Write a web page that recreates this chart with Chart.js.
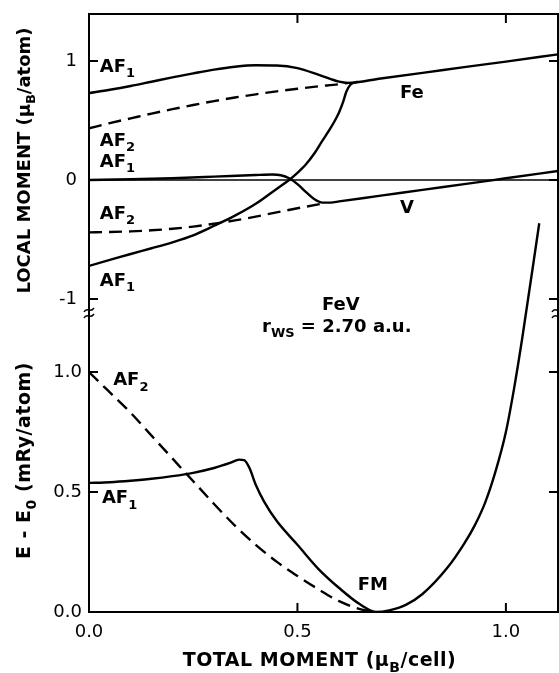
<!DOCTYPE html>
<html>
<head>
<meta charset="utf-8">
<title>FeV local moment and energy</title>
<script src="https://cdn.jsdelivr.net/npm/chart.js@4.4.0/dist/chart.umd.min.js"></script>
<style>
body{margin:0;background:#fff;}
#wrap{width:559px;height:673px;position:relative;}
</style>
</head>
<body>
<div id="wrap"><canvas id="myChart"></canvas></div>
<script>
// tick values
var xTicks = [0, 0.5, 1.0];
var momentTicks = [-1, 0, 1];
var energyTicks = [0, 0.5, 1.0];

// top panel: local moments (muB/atom) vs total moment
var feX = [0, 0.05, 0.1, 0.15, 0.2, 0.25, 0.3, 0.35, 0.4, 0.45, 0.5, 0.55, 0.58, 0.6, 0.62, 0.7, 0.8, 0.9, 1.0, 1.125];
var feY = [0.73, 0.758, 0.79, 0.826, 0.862, 0.896, 0.928, 0.952, 0.964, 0.962, 0.94, 0.885, 0.848, 0.826, 0.816, 0.853, 0.9, 0.948, 0.995, 1.056];

var af1LowX = [0, 0.05, 0.1, 0.15, 0.2, 0.25, 0.3, 0.35, 0.4, 0.45, 0.48, 0.5, 0.52, 0.54, 0.56, 0.58, 0.59, 0.6, 0.61, 0.617, 0.627, 0.645];
var af1LowY = [-0.722, -0.672, -0.622, -0.574, -0.524, -0.465, -0.385, -0.3, -0.2, -0.075, 0.0, 0.06, 0.13, 0.22, 0.33, 0.44, 0.5, 0.57, 0.66, 0.74, 0.8, 0.826];

var vX = [0, 0.1, 0.2, 0.3, 0.4, 0.44, 0.46, 0.48, 0.5, 0.52, 0.54, 0.56, 0.58, 0.6, 0.7, 0.8, 0.9, 1.0, 1.125];
var vY = [0.0, 0.006, 0.015, 0.028, 0.042, 0.046, 0.04, 0.015, -0.035, -0.1, -0.16, -0.19, -0.19, -0.18, -0.132, -0.083, -0.035, 0.014, 0.075];

var af2UpX = [0, 0.05, 0.1, 0.15, 0.2, 0.25, 0.3, 0.35, 0.4, 0.45, 0.5, 0.55, 0.6, 0.62];
var af2UpY = [0.434, 0.478, 0.518, 0.558, 0.595, 0.63, 0.663, 0.693, 0.72, 0.745, 0.767, 0.787, 0.805, 0.815];

var af2LowX = [0, 0.05, 0.1, 0.15, 0.2, 0.25, 0.3, 0.35, 0.4, 0.45, 0.5, 0.55, 0.57];
var af2LowY = [-0.44, -0.437, -0.432, -0.423, -0.41, -0.392, -0.368, -0.34, -0.308, -0.272, -0.238, -0.205, -0.193];

// bottom panel: E - E0 (mRy/atom)
var eAf1X = [0, 0.05, 0.1, 0.15, 0.2, 0.25, 0.3, 0.34, 0.36, 0.372, 0.385, 0.4, 0.42, 0.45, 0.5, 0.55, 0.6, 0.65, 0.69, 0.72, 0.76, 0.8, 0.86, 0.9, 0.925, 0.95, 0.975, 1.0, 1.02, 1.04, 1.08];
var eAf1Y = [0.538, 0.541, 0.547, 0.555, 0.566, 0.58, 0.6, 0.622, 0.635, 0.633, 0.6, 0.53, 0.46, 0.38, 0.28, 0.18, 0.1, 0.032, 0.0, 0.007, 0.03, 0.075, 0.185, 0.285, 0.36, 0.455, 0.585, 0.75, 0.935, 1.15, 1.62];

var eAf2X = [0, 0.05, 0.1, 0.15, 0.2, 0.25, 0.3, 0.35, 0.4, 0.45, 0.5, 0.55, 0.6, 0.65, 0.69];
var eAf2Y = [1.0, 0.915, 0.83, 0.735, 0.64, 0.545, 0.45, 0.36, 0.28, 0.21, 0.15, 0.095, 0.045, 0.012, 0.0];

var zeroX = [0, 1.125];
var zeroY = [0, 0];

// labels on the plot, in data units
var notes = [
    {axis: 'yTop', x: 0.026, y: 0.908, parts: [['AF'], ['1', 1]]},
    {axis: 'yTop', x: 0.026, y: 0.286, parts: [['AF'], ['2', 1]]},
    {axis: 'yTop', x: 0.026, y: 0.109, parts: [['AF'], ['1', 1]]},
    {axis: 'yTop', x: 0.026, y: -0.328, parts: [['AF'], ['2', 1]]},
    {axis: 'yTop', x: 0.026, y: -0.89, parts: [['AF'], ['1', 1]]},
    {axis: 'yTop', x: 0.746, y: 0.689, parts: [['Fe']]},
    {axis: 'yTop', x: 0.746, y: -0.277, parts: [['V']]},
    {axis: 'yTop', x: 0.604, y: -1.092, parts: [['FeV']], center: true},
    {axis: 'yBot', x: 0.415, y: 1.168, parts: [['r'], ['WS', 1], [' = 2.70 a.u.']]},
    {axis: 'yBot', x: 0.058, y: 0.945, parts: [['AF'], ['2', 1]]},
    {axis: 'yBot', x: 0.031, y: 0.453, parts: [['AF'], ['1', 1]]},
    {axis: 'yBot', x: 0.681, y: 0.09, parts: [['FM']], center: true}
];

function pts(xs, ys) {
    return xs.map(function(v, i) { return {x: v, y: ys[i]}; });
}

// text with subscripts
function drawRich(ctx, parts, x, y, size, center) {
    var subSize = Math.round(size * 0.72);
    var w = 0;
    parts.forEach(function(p) {
        ctx.font = 'bold ' + (p[1] ? subSize : size) + 'px "DejaVu Sans"';
        w += ctx.measureText(p[0]).width;
    });
    var cx = center ? x - w / 2 : x;
    parts.forEach(function(p) {
        ctx.font = 'bold ' + (p[1] ? subSize : size) + 'px "DejaVu Sans"';
        ctx.fillText(p[0], cx, p[1] ? y + size * 0.3 : y);
        cx += ctx.measureText(p[0]).width;
    });
}

function tilde(ctx, x, y) {
    ctx.moveTo(x - 5, y + 2);
    ctx.bezierCurveTo(x - 2, y - 4, x + 1, y + 4, x + 5, y - 2);
}

var frameTicks = {
    id: 'frameTicks',
    beforeDraw: function(chart) {
        var ctx = chart.ctx;
        ctx.save();
        ctx.fillStyle = '#fff';
        ctx.fillRect(0, 0, chart.width, chart.height);
        ctx.restore();
    },
    afterDraw: function(chart) {
        var ctx = chart.ctx;
        var a = chart.chartArea;
        var sx = chart.scales.x, st = chart.scales.yTop, sb = chart.scales.yBot;
        var L = 9;
        ctx.save();
        ctx.strokeStyle = '#000';
        ctx.fillStyle = '#000';
        ctx.lineWidth = 2;
        ctx.strokeRect(a.left, a.top, a.right - a.left, a.bottom - a.top);

        // inward ticks on all four sides
        ctx.beginPath();
        xTicks.forEach(function(v) {
            var p = sx.getPixelForValue(v);
            ctx.moveTo(p, a.bottom); ctx.lineTo(p, a.bottom - L);
            ctx.moveTo(p, a.top); ctx.lineTo(p, a.top + L);
        });
        momentTicks.forEach(function(v) {
            var p = st.getPixelForValue(v);
            ctx.moveTo(a.left, p); ctx.lineTo(a.left + L, p);
            ctx.moveTo(a.right, p); ctx.lineTo(a.right - L, p);
        });
        energyTicks.forEach(function(v) {
            var p = sb.getPixelForValue(v);
            ctx.moveTo(a.left, p); ctx.lineTo(a.left + L, p);
            ctx.moveTo(a.right, p); ctx.lineTo(a.right - L, p);
        });
        ctx.stroke();

        // axis break marks between the panels
        ctx.lineWidth = 1.5;
        ctx.beginPath();
        var b = st.bottom;
        tilde(ctx, a.left, b - 3); tilde(ctx, a.left, b + 3);
        tilde(ctx, a.right - 1, b - 3); tilde(ctx, a.right - 1, b + 3);
        ctx.stroke();

        // axis titles
        ctx.textBaseline = 'alphabetic';
        ctx.textAlign = 'left';
        ctx.letterSpacing = '0.5px';
        drawRich(ctx, [['TOTAL MOMENT ('], ['\u03bc'], ['B', 1], ['/cell)']], (a.left + a.right) / 2 - 4, 666, 19, true);
        ctx.letterSpacing = '0px';
        ctx.save();
        ctx.translate(30, (st.top + st.bottom) / 2 - 3);
        ctx.rotate(-Math.PI / 2);
        drawRich(ctx, [['LOCAL MOMENT ('], ['\u03bc'], ['B', 1], ['/atom)']], 0, 0, 18, true);
        ctx.restore();
        ctx.letterSpacing = '0.5px';
        ctx.save();
        ctx.translate(30, (sb.top + sb.bottom) / 2 - 2);
        ctx.rotate(-Math.PI / 2);
        drawRich(ctx, [['E - E'], ['0', 1], [' (mRy/atom)']], 0, 0, 19, true);
        ctx.restore();
        ctx.letterSpacing = '0px';

        // curve labels
        notes.forEach(function(n) {
            var sc = chart.scales[n.axis];
            drawRich(ctx, n.parts, sx.getPixelForValue(n.x), sc.getPixelForValue(n.y), 18, n.center);
        });
        ctx.restore();
    }
};

function line(xs, ys, axis, dashed, width) {
    return {
        data: pts(xs, ys),
        yAxisID: axis,
        borderColor: '#000',
        borderWidth: width || 2.4,
        borderDash: dashed ? [13, 7] : [],
        pointRadius: 0,
        fill: false,
        cubicInterpolationMode: 'monotone'
    };
}

var energyLine = line(eAf1X, eAf1Y, 'yBot', false);
energyLine.clip = {left: 0, right: 0, top: false, bottom: 0};

var tickFont = {family: 'DejaVu Sans', size: 18};

// no extra label padding, so the plot box sits where the frame should be
function fitY(s) { s.width = 89; s.paddingTop = 0; s.paddingBottom = 0; }

var ctx = document.getElementById('myChart').getContext('2d');
var chart = new Chart(ctx, {
    type: 'line',
    data: {
        datasets: [
            line(zeroX, zeroY, 'yTop', false, 1.4),
            line(feX, feY, 'yTop', false),
            line(af1LowX, af1LowY, 'yTop', false),
            line(vX, vY, 'yTop', false),
            line(af2UpX, af2UpY, 'yTop', true),
            line(af2LowX, af2LowY, 'yTop', true),
            energyLine,
            line(eAf2X, eAf2Y, 'yBot', true)
        ]
    },
    options: {
        responsive: true,
        maintainAspectRatio: false,
        animation: false,
        layout: {padding: {top: 14, right: 1, left: 0, bottom: 0}},
        plugins: {
            legend: {display: false},
            tooltip: {enabled: false}
        },
        scales: {
            x: {
                type: 'linear',
                min: 0,
                max: 1.125,
                afterBuildTicks: function(s) { s.ticks = xTicks.map(function(v) { return {value: v}; }); },
                ticks: {color: '#000', font: tickFont, padding: 10, maxRotation: 0,
                    callback: function(v) { return v.toFixed(1); }},
                grid: {display: false, drawTicks: false},
                border: {display: false},
                afterFit: function(s) { s.height = 61; s.paddingLeft = 0; s.paddingRight = 0; }
            },
            yBot: {
                type: 'linear',
                position: 'left',
                stack: 'panels',
                stackWeight: 1,
                min: 0,
                max: 1.246,
                afterBuildTicks: function(s) { s.ticks = energyTicks.map(function(v) { return {value: v}; }); },
                ticks: {color: '#000', font: tickFont, padding: 7,
                    callback: function(v) { return v.toFixed(1); }},
                grid: {display: false, drawTicks: false},
                border: {display: false},
                afterFit: fitY
            },
            yTop: {
                type: 'linear',
                position: 'left',
                stack: 'panels',
                stackWeight: 1,
                min: -1.118,
                max: 1.395,
                afterBuildTicks: function(s) { s.ticks = momentTicks.map(function(v) { return {value: v}; }); },
                ticks: {color: '#000', font: tickFont, padding: 12,
                    callback: function(v) { return String(v); }},
                grid: {display: false, drawTicks: false},
                border: {display: false},
                afterFit: fitY
            }
        }
    },
    plugins: [frameTicks]
});
</script>
</body>
</html>
